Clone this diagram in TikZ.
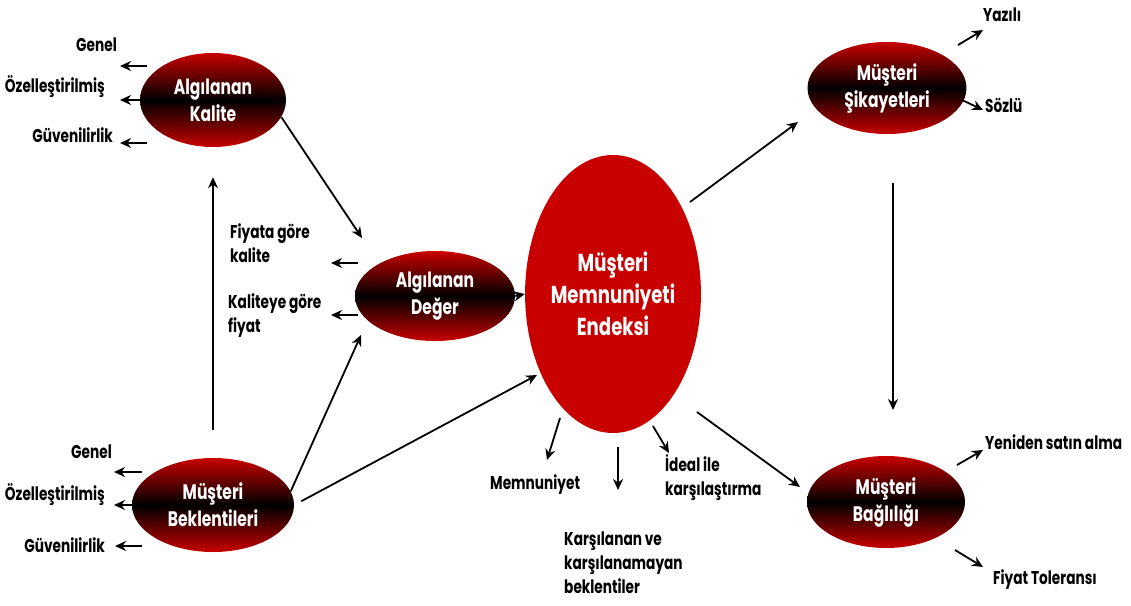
\documentclass[tikz,border=0pt]{standalone}
\usepackage{fontspec}
\setmainfont{Poppins}[FakeStretch=0.74]
\usetikzlibrary{shapes.geometric,arrows.meta}
\definecolor{myred}{RGB}{200,0,0}
\begin{document}
\begin{tikzpicture}[x=1pt,y=-1pt,
  ell/.style={ellipse, inner sep=0pt, top color=myred, bottom color=myred, middle color=black, text=white, font=\fontsize{21}{27}\selectfont\bfseries, align=center},
  bigell/.style={ellipse, inner sep=0pt, fill=myred, text=white, font=\fontsize{24.5}{32}\selectfont\bfseries, align=center},
  lab/.style={inner sep=0pt, font=\fontsize{18.5}{24}\selectfont\bfseries, align=left, text=black},
  arr/.style={-{Stealth[length=11pt,width=10pt]}, line width=1.8pt}]
\useasboundingbox (0,0) rectangle (1131,605);

% ellipses
\node[ell, minimum width=146, minimum height=94] (kal) at (213,100) {Algılanan\\Kalite};
\node[ell, minimum width=160, minimum height=90] (deg) at (435,296) {Algılanan\\Değer};
\node[ell, minimum width=162, minimum height=94] (bek) at (213,505) {Müşteri\\Beklentileri};
\node[bigell, minimum width=140, minimum height=278] (mm) at (613,294) {Müşteri\\Memnuniyeti\\Endeksi};
\node[ell, minimum width=159, minimum height=92] (sik) at (887,88) {Müşteri\\Şikayetleri};
\node[ell, minimum width=158, minimum height=92] (bag) at (886,502) {Müşteri\\Bağlılığı};

% labels
\node[lab, anchor=east] (kg) at (117,45) {Genel};
\node[lab, anchor=east] (ko) at (105,87) {Özelleştirilmiş};
\node[lab, anchor=east] (kv) at (113,135) {Güvenilirlik};
\node[lab, anchor=east] (bg) at (112,452) {Genel};
\node[lab, anchor=east] (bo) at (105,495) {Özelleştirilmiş};
\node[lab, anchor=east] (bv) at (105,545) {Güvenilirlik};
\node[lab, anchor=west] (fk) at (230,243) {Fiyata göre\\kalite};
\node[lab, anchor=west] (kf) at (228,316) {Kaliteye göre\\fiyat};
\node[lab, anchor=west] (mn) at (490,485) {Memnuniyet};
\node[lab, anchor=west] (ik) at (665,478) {İdeal ile\\karşılaştırma};
\node[lab, anchor=west] (kk) at (564,563) {Karşılanan ve\\karşılanamayan\\beklentiler};
\node[lab, anchor=west] (yz) at (983,15) {Yazılı};
\node[lab, anchor=west] (sz) at (985,105) {Sözlü};
\node[lab, anchor=west] (ys) at (985,442) {Yeniden satın alma};
\node[lab, anchor=west] (ft) at (993,580) {Fiyat Toleransı};

% coordinates for free arrow ends
\coordinate (a1s) at (147,66);  \coordinate (a1e) at (120,66);
\coordinate (a2e) at (120,100);
\coordinate (a3s) at (147,143); \coordinate (a3e) at (120,143);
\coordinate (b1s) at (142,472); \coordinate (b1e) at (114,472);
\coordinate (b2e) at (114,505);
\coordinate (b3s) at (142,546); \coordinate (b3e) at (115,546);
\coordinate (d1s) at (358,263); \coordinate (d1e) at (331,263);
\coordinate (d2s) at (358,315); \coordinate (d2e) at (331,315);
\coordinate (k2d) at (362,238);
\coordinate (b2d) at (361,335);
\coordinate (b2m) at (537,375);
\coordinate (ms1) at (690,202); \coordinate (ms2) at (798,122);
\coordinate (sb1) at (893,183); \coordinate (sb2) at (893,410);
\coordinate (mb1) at (697,412); \coordinate (mb2) at (800,487);
\coordinate (m1s) at (560,418); \coordinate (m1e) at (547,460);
\coordinate (m2s) at (618,447); \coordinate (m2e) at (618,490);
\coordinate (m3s) at (653,426); \coordinate (m3e) at (669,453);
\coordinate (y1s) at (958,45);  \coordinate (y1e) at (983,30);
\coordinate (s1s) at (962,100); \coordinate (s1e) at (983,110);
\coordinate (r1s) at (957,465); \coordinate (r1e) at (983,450);
\coordinate (f1s) at (955,550); \coordinate (f1e) at (983,567);

% arrows
\draw[arr] (a1s) -- (a1e);
\draw[arr] (kal.west) -- (a2e);
\draw[arr] (a3s) -- (a3e);
\draw[arr] (b1s) -- (b1e);
\draw[arr] (bek.west) -- (b2e);
\draw[arr] (b3s) -- (b3e);
\draw[arr] (d1s) -- (d1e);
\draw[arr] (d2s) -- (d2e);
\draw[arr] (kal.-14) -- (k2d);
\draw[arr] (bek.10) -- (b2d);
\draw[arr, shorten <=8pt] (bek.east) -- (b2m);
\draw[arr, shorten <=28pt, shorten >=30pt] (bek.north) -- (kal.south);
\draw[arr] (deg.east) -- (mm.west);
\draw[arr] (ms1) -- (ms2);
\draw[arr] (sb1) -- (sb2);
\draw[arr] (mb1) -- (mb2);
\draw[arr] (m1s) -- (m1e);
\draw[arr] (m2s) -- (m2e);
\draw[arr] (m3s) -- (m3e);
\draw[arr] (y1s) -- (y1e);
\draw[arr] (s1s) -- (s1e);
\draw[arr] (r1s) -- (r1e);
\draw[arr] (f1s) -- (f1e);
\end{tikzpicture}
\end{document}
